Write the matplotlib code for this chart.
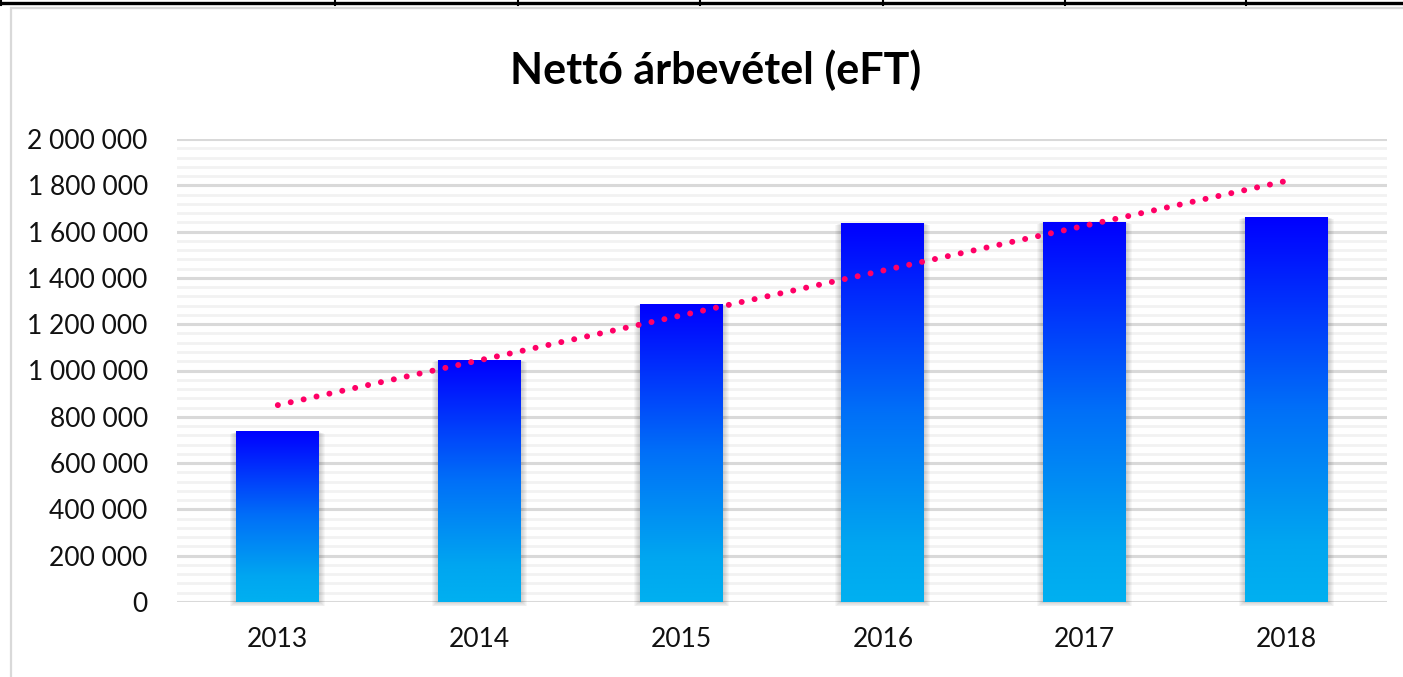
import numpy as np
import matplotlib.pyplot as plt
from matplotlib.patches import Rectangle
from matplotlib.lines import Line2D
from matplotlib.colors import LinearSegmentedColormap
from matplotlib.ticker import MultipleLocator, FuncFormatter

# Data
years = ['2013', '2014', '2015', '2016', '2017', '2018']
revenue = [735000, 1045000, 1287000, 1637000, 1641000, 1663000]
title = 'Nettó árbevétel (eFT)'

plt.rcParams['font.family'] = ['Lato', 'DejaVu Sans']

W, H = 1403, 677
fig = plt.figure(figsize=(W / 100, H / 100), dpi=100)
ax = fig.add_axes([177 / W, 1 - 602 / H, (1387 - 177) / W, (602 - 139) / H])

x = np.arange(len(years))
bar_w = 0.41
ymax = 2000000

# one pixel in data units
px_x = len(years) / (1387 - 177)
px_y = ymax / (602 - 139)

grad = LinearSegmentedColormap.from_list(
    'bar', [(0, '#00B0F0'), (0.15, '#00A6F0'), (0.5, '#0070F8'), (1, '#0000FF')])
col = np.linspace(0, 1, 256).reshape(-1, 1)

for xi, v in zip(x, revenue):
    # soft outer shadow
    for k in range(1, 7):
        ax.add_patch(Rectangle((xi - bar_w / 2 - k * px_x, -k * px_y * 0.7),
                               bar_w + 2 * k * px_x, v + k * px_y * 0.4,
                               color='black', alpha=0.03, lw=0, zorder=1.5, clip_on=False))
    ax.imshow(col, cmap=grad, origin='lower', aspect='auto', interpolation='bilinear',
              extent=[xi - bar_w / 2, xi + bar_w / 2, 0, v], zorder=2)

# linear trendline
coef = np.polyfit(x, revenue, 1)
ax.plot(x, np.polyval(coef, x), color='#FF0066', lw=4.3,
        linestyle=(0, (0.01, 2.2)), dash_capstyle='round', zorder=3)

ax.set_xlim(-0.5, len(years) - 0.5)
ax.set_ylim(0, ymax)
ax.set_aspect('auto')

ax.set_xticks(x)
ax.set_xticklabels(years)
ax.yaxis.set_major_locator(MultipleLocator(200000))
ax.yaxis.set_minor_locator(MultipleLocator(40000))
ax.yaxis.set_major_formatter(FuncFormatter(lambda v, p: f'{int(v):,}'.replace(',', ' ')))
ax.tick_params(axis='both', which='both', length=0, labelsize=19, colors='#111111')
ax.tick_params(axis='y', pad=21)
ax.tick_params(axis='x', pad=18)

ax.set_axisbelow(True)
ax.grid(which='minor', axis='y', color='#F2F2F2', lw=2)
ax.grid(which='major', axis='y', color='#D9D9D9', lw=2.2)
for s in ax.spines.values():
    s.set_visible(False)

fig.text(716 / W, 1 - 70 / H, title, ha='center', va='center',
         fontsize=31, fontweight='bold', color='black')

# page decorations: table edge above and chart frame
fig.add_artist(Rectangle((11 / W, -0.01), 1, (677 - 8) / H + 0.01, fill=False,
                         edgecolor='#D9D9D9', lw=1.6, transform=fig.transFigure))
fig.add_artist(Line2D([0, 1], [1 - 2.5 / H] * 2, transform=fig.transFigure, color='black', lw=2.4))
for px in [1, 335, 518, 700, 883, 1065, 1246]:
    fig.add_artist(Line2D([px / W] * 2, [1, 1 - 5 / H], transform=fig.transFigure, color='black', lw=1.5))

fig.savefig('out.png', dpi=100)
